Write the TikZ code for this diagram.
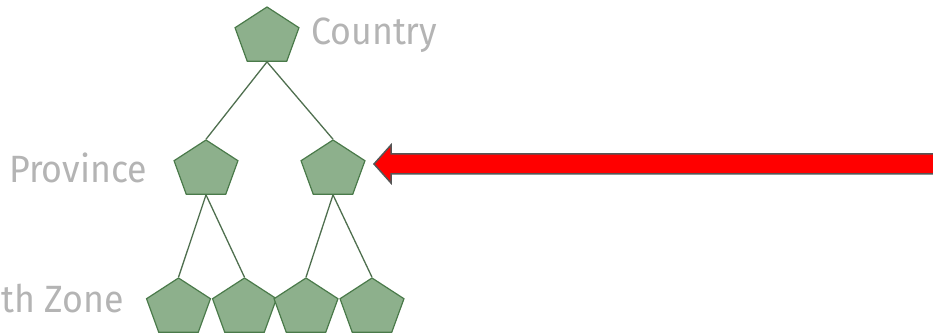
\documentclass[tikz,border=0pt]{standalone}
\usepackage{fontspec}
\setmainfont{Fira Sans}
\newfontfamily\labelfont[FakeStretch=0.94]{Fira Sans}
\usetikzlibrary{shapes.geometric}
\definecolor{leaffill}{HTML}{8DB08C}
\definecolor{leafedge}{HTML}{4A7A4A}
\definecolor{linkcol}{HTML}{4F6F4F}
\definecolor{labelgray}{HTML}{B4B4B4}
\definecolor{arrowedge}{HTML}{555555}
\tikzset{
  unit/.style={regular polygon, regular polygon sides=5, minimum size=60pt,
    inner sep=0pt, xscale=1.12, fill=leaffill, draw=leafedge, line width=1.2pt},
  link/.style={draw=linkcol, line width=1.3pt},
  level/.style={inner sep=0pt, text=labelgray, font=\labelfont\fontsize{38}{42}\selectfont}
}
\begin{document}
\begin{tikzpicture}[x=1pt,y=-1pt]
\useasboundingbox (0,0) rectangle (933,336);
% hierarchy
\node[unit] (country) at (267,37) {};
\node[unit] (provA) at (206,170) {};
\node[unit] (provB) at (333,170) {};
\node[unit] (zoneA) at (178.5,308) {};
\node[unit] (zoneB) at (244.5,308) {};
\node[unit] (zoneC) at (306,308) {};
\node[unit] (zoneD) at (372,308) {};
\draw[link] (country.south) -- (provA.north);
\draw[link] (country.south) -- (provB.north);
\draw[link] (provA.south) -- (zoneA.north);
\draw[link] (provA.south) -- (zoneB.north);
\draw[link] (provB.south) -- (zoneC.north);
\draw[link] (provB.south) -- (zoneD.north);
% level labels
\node[level, anchor=base west] (lblCountry) at (311,45) {Country};
\node[level, anchor=base west] (lblProvince) at (9,183) {Province};
\node[level, anchor=base west] (lblZone) at (1,312) {th Zone};
% pointer arrow
\fill[red, draw=arrowedge, line width=1.5pt, line join=miter]
  (374,164) -- (391,145) -- (391,154) -- (945,154) -- (945,174)
  -- (391,174) -- (391,183) -- cycle;
\end{tikzpicture}
\end{document}
